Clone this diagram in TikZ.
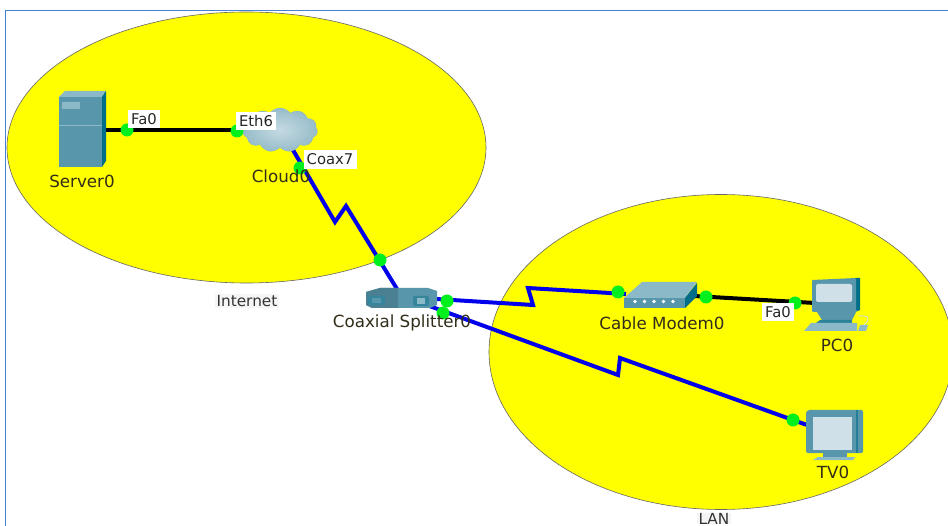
\documentclass[tikz,border=0pt]{standalone}
\usepackage{fontspec}
\setmainfont{DejaVu Sans}
\usetikzlibrary{shapes.geometric,shapes.symbols}
\definecolor{pureyellow}{RGB}{255,255,0}
\definecolor{teal1}{RGB}{88,150,172}
\definecolor{teal2}{RGB}{0,110,135}
\definecolor{teal3}{RGB}{140,185,200}
\definecolor{screen}{RGB}{208,224,232}
\definecolor{cloudc}{RGB}{150,188,202}
\definecolor{frameb}{RGB}{70,130,210}
\definecolor{port}{RGB}{0,240,30}
\definecolor{linkb}{RGB}{0,0,235}
\definecolor{lblink}{RGB}{50,45,25}
\tikzset{
 x=1pt,y=-1pt,
 zone/.style={fill=pureyellow,draw=black!60,line width=0.6pt},
 portdot/.style={circle,fill=port,draw=none,inner sep=0pt,minimum size=13pt},
 coax/.style={draw=linkb,line width=4pt,line join=miter},
 ether/.style={draw=black,line width=4pt},
 devlabel/.style={font=\fontsize{16.7pt}{18pt}\selectfont,text=lblink,inner sep=0pt},
 portlabel/.style={font=\fontsize{14.8pt}{16pt}\selectfont,fill=white,text=black!85,inner sep=0pt,minimum height=18.5pt},
 zonelabel/.style={font=\fontsize{15.3pt}{16pt}\selectfont,fill=black!4,text=black!80,inner xsep=2pt,inner ysep=1pt},
 anchorpt/.style={inner sep=0pt,minimum size=0pt},
}
\begin{document}
\begin{tikzpicture}
\useasboundingbox (0,0) rectangle (948,526);
\begin{scope}
\clip (0,0) rectangle (948,526);
\fill[white] (0,0) rectangle (948,526);
\draw[frameb,line width=1pt] (5.5,526) -- (5.5,10.5) -- (948,10.5);
\node[ellipse,zone,minimum width=479pt,minimum height=271pt,inner sep=0pt] (internet) at (246.5,147.5) {};
\node[ellipse,zone,minimum width=464pt,minimum height=315pt,inner sep=0pt] (lan) at (721,352) {};
\end{scope}
% device anchors
\node[anchorpt] (server) at (90,130) {};
\node[anchorpt] (cloud) at (280,130) {};
\coordinate (cloudS) at (293,150);
\coordinate (splT) at (397,289);
\coordinate (splR) at (436,299);
\coordinate (splB) at (424,304);
\coordinate (modL) at (626,294);
\coordinate (modR) at (694,296);
\coordinate (pcL) at (815,303);
\coordinate (tvL) at (807,425);
\coordinate (bendA1) at (335,222);
\coordinate (bendA2) at (346,206);
\coordinate (bendB1) at (533,305);
\coordinate (bendB2) at (528,288);
\coordinate (bendC1) at (618,375);
\coordinate (bendC2) at (620,358);
% links
\draw[ether] (server.center) -- (cloud.center);
\draw[ether] (modR) -- (pcL);
\draw[coax] (cloudS) -- (bendA1) -- (bendA2) -- (splT);
\draw[coax] (splR) -- (bendB1) -- (bendB2) -- (modL);
\draw[coax] (splB) -- (bendC1) -- (bendC2) -- (tvL);
% server
\fill[teal3] (59,97) -- (65,91) -- (106,91) -- (102,97) -- cycle;
\fill[teal2] (102,97) -- (106,91) -- (106,161) -- (102,167) -- cycle;
\fill[teal1] (59,97) rectangle (102,167);
\fill[teal3] (62,102) rectangle (80,109);
\draw[teal3,line width=.5pt] (59,125) -- (102,125);
% cloud
\node[cloud,cloud puffs=11,cloud puff arc=110,aspect=2.3,inner color=cloudc!55!white,outer color=cloudc,draw=teal3,line width=.4pt,minimum width=75pt,minimum height=44pt,inner sep=0pt] (cloudshape) at (280,130) {};
% splitter
\fill[teal1] (366,292) -- (380,288) -- (428,288) -- (437,291) -- (437,305) -- (430,308) -- (372,308) -- (366,305) -- cycle;
\fill[teal1!85!black] (366,292) -- (380,288) -- (398,288) -- (398,308) -- (372,308) -- (366,305) -- cycle;
\fill[teal2!40!teal1,rounded corners=2pt] (413,296) rectangle (429,306);
\fill[teal3] (417,298) rectangle (425,304);
\fill[teal2!40!teal1,rounded corners=2pt] (368,296) rectangle (385,305);
\fill[teal1] (372,298) rectangle (381,303);
% modem
\fill[teal3] (624,298) -- (642,282) -- (697,282) -- (685,298) -- cycle;
\fill[teal2] (685,298) -- (697,283) -- (697,296) -- (685,308) -- cycle;
\fill[teal1] (624,298) rectangle (685,308);
\foreach \px in {635,644.5,654,663.5,673}{\fill[white] (\px,301.5) circle (1.8);}
% pc
\fill[teal2] (855,278) -- (860,278) -- (860,310) -- (855,312) -- cycle;
\fill[teal1,rounded corners=1pt] (812,280) -- (856,278) -- (856,312) -- (812,312) -- cycle;
\fill[screen,rounded corners=2pt] (816,284) rectangle (852,302);
\fill[teal1] (817,312) -- (857,310) -- (852,320) -- (822,320) -- cycle;
\fill[teal2!50!teal1] (820,320) -- (852,320) -- (852,323) -- (816,323) -- cycle;
\fill[teal3] (804,331) -- (811,323) -- (857,323) -- (857,331) -- cycle;
\fill[teal3] (858,331) -- (866,331) -- (868,325) -- (860,325) -- cycle;
\draw[teal3!50!white,line width=.8pt] (864,325) .. controls (872,318) and (868,315) .. (858,316);
% tv
\fill[teal1,rounded corners=1.5pt] (806,412) -- (808,410) -- (863,410) -- (863,453) -- (806,453) -- cycle;
\fill[teal2!60!teal1] (856,410) rectangle (858,453);
\fill[screen] (813,417) rectangle (852,450);
\fill[teal1] (823,453) rectangle (847,457);
\fill[teal3] (813,460) -- (818,457) -- (855,457) -- (853,460) -- cycle;
% port dots
\node[portdot] (p1) at (127,130) {};
\node[portdot] (p2) at (237,131) {};
\node[portdot] (p3) at (300,168) {};
\node[portdot] (p4) at (380,260) {};
\node[portdot] (p5) at (447,301) {};
\node[portdot] (p6) at (443,313) {};
\node[portdot] (p7) at (618,292) {};
\node[portdot] (p8) at (706,297) {};
\node[portdot] (p9) at (795,303) {};
\node[portdot] (p10) at (793,420) {};
% labels
\node[devlabel] (lserver) at (82,181) {Server0};
\node[devlabel] (lcloud) at (281,176) {Cloud0};
\node[devlabel] (lsplit) at (402,323) {Coaxial Splitter0};
\node[devlabel] (lmodem) at (662,323) {Cable Modem0};
\node[devlabel] (lpc) at (837,345) {PC0};
\node[devlabel] (ltv) at (833,472) {TV0};
\node[portlabel,minimum width=32pt] (fa1) at (144,119) {Fa0};
\node[portlabel,minimum width=40pt] (eth) at (256,121) {Eth6};
\node[portlabel,minimum width=53pt] (coax7) at (330,159.5) {Coax7};
\node[portlabel,minimum width=32pt] (fa2) at (778,312) {Fa0};
\node[zonelabel] (linternet) at (247,301) {Internet};
\node[zonelabel,inner ysep=0pt] (llan) at (714,518.5) {LAN};
\end{tikzpicture}
\end{document}
